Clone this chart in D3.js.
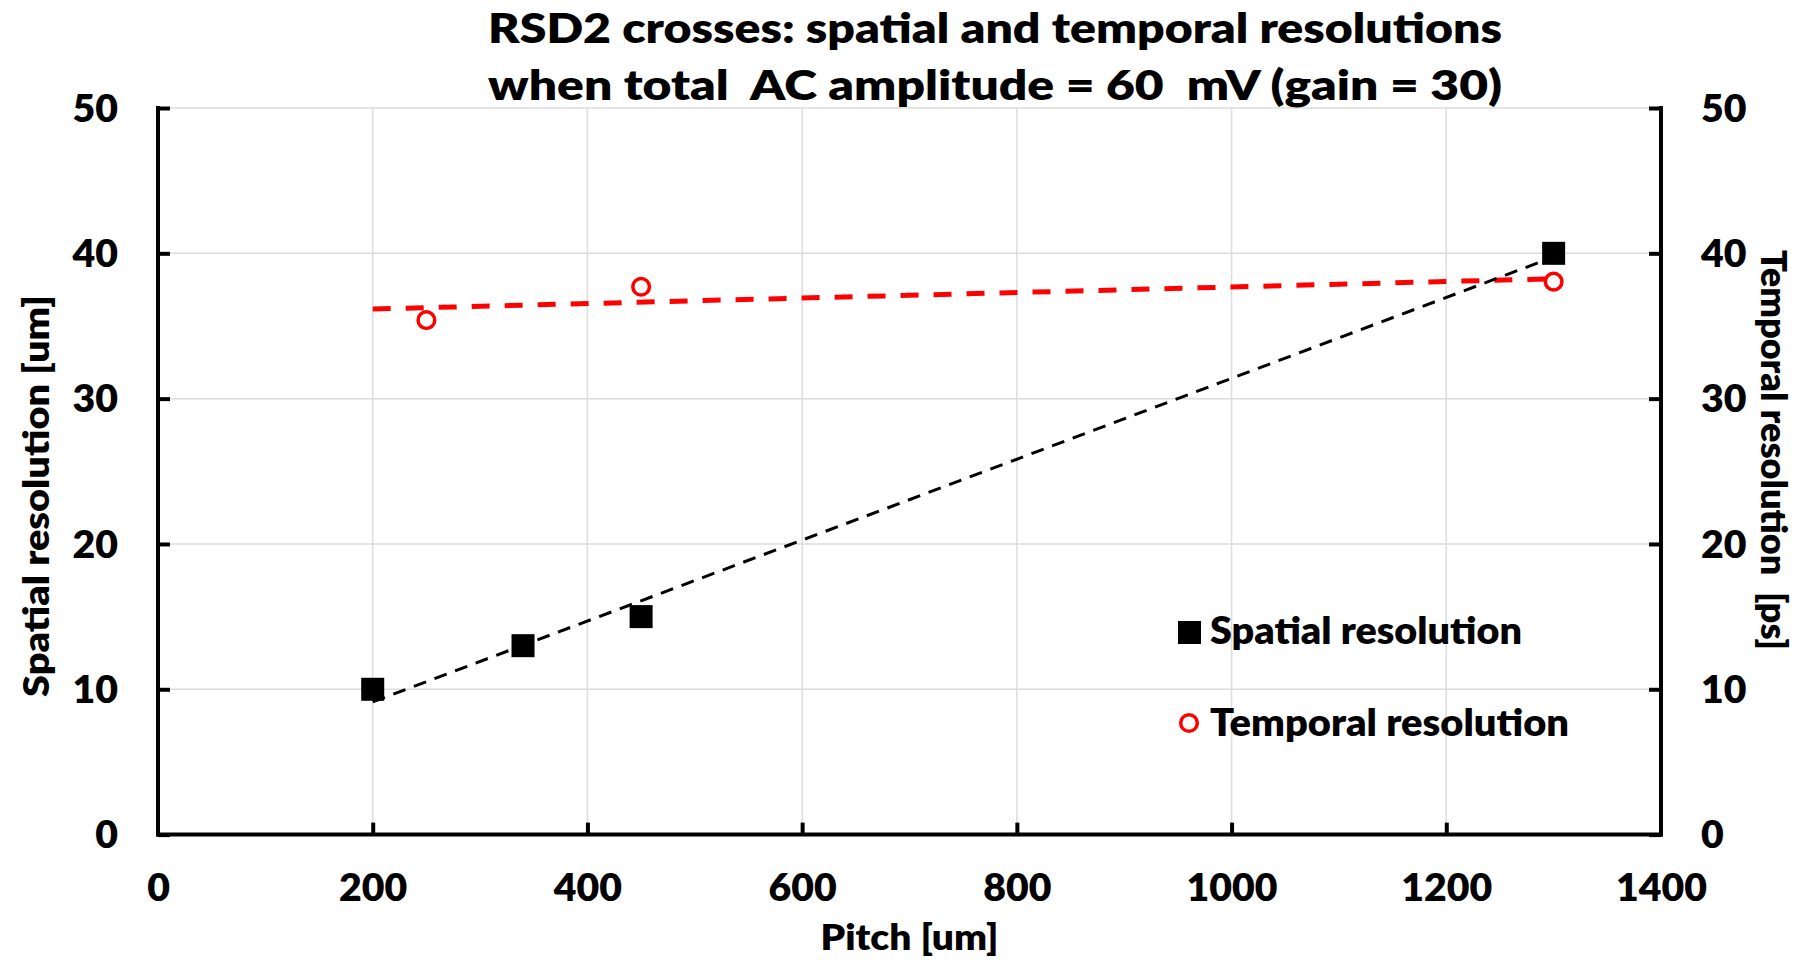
<!DOCTYPE html>
<html>
<head>
<meta charset="utf-8">
<script src="https://cdn.jsdelivr.net/npm/d3@7"></script>
<style>
  html, body { margin: 0; padding: 0; background: #fff; }
  svg { display: block; }
  text { font-family: "Lato", "Open Sans", sans-serif; font-weight: 800; fill: #000; }
</style>
</head>
<body>
<svg id="chart" width="1803" height="960"></svg>
<script>
// Measurements per pitch
const spatialPitch = [200, 340, 450, 1300];
const spatialRes   = [10, 13, 15, 40];        // um
const temporalPitch = [250, 450, 1300];
const temporalRes   = [35.4, 37.7, 38.05];    // ps

const xTicks = [0, 200, 400, 600, 800, 1000, 1200, 1400];
const yTicks = [0, 10, 20, 30, 40, 50];

const titleLines = [
  "RSD2 crosses: spatial and temporal resolutions",
  "when total\u00a0 AC amplitude = 60\u00a0 mV (gain = 30)"
];
const legendLabels = ["Spatial resolution", "Temporal resolution"];

const m = { left: 158, right: 1661, top: 108, bottom: 834.6 };

const svg = d3.select("#chart");
const x = d3.scaleLinear().domain([0, 1400]).range([m.left, m.right]);
const yL = d3.scaleLinear().domain([0, 50]).range([m.bottom, m.top]);
const yR = d3.scaleLinear().domain([0, 50]).range([m.bottom, m.top]);

// The wide geometric face is imitated by stretching text
function widen(sel, factor) {
  sel.each(function () {
    const w = this.getComputedTextLength();
    d3.select(this).attr("textLength", w * factor).attr("lengthAdjust", "spacingAndGlyphs");
  });
}
function fitWidth(sel, w) {
  sel.attr("textLength", w).attr("lengthAdjust", "spacingAndGlyphs");
}

// Least-squares line evaluated over a pitch span
function fitLine(xs, ys, x0, x1) {
  const mx = d3.mean(xs), my = d3.mean(ys);
  const sxy = d3.sum(xs, (v, i) => (v - mx) * (ys[i] - my));
  const sxx = d3.sum(xs, v => (v - mx) * (v - mx));
  const b = sxy / sxx, a = my - b * mx;
  return [[x0, a + b * x0], [x1, a + b * x1]];
}

// gridlines
const grid = svg.append("g").attr("stroke", "#dcdcdc").attr("stroke-width", 1.5);
grid.selectAll("line.v").data(xTicks.filter(d => d > 0 && d < 1400)).join("line")
  .attr("x1", d => x(d)).attr("x2", d => x(d))
  .attr("y1", m.top).attr("y2", m.bottom);
grid.selectAll("line.h").data(yTicks.filter(d => d > 0)).join("line")
  .attr("x1", m.left).attr("x2", m.right)
  .attr("y1", d => yL(d)).attr("y2", d => yL(d));

// axes
function styleAxis(g) {
  g.select(".domain").remove();
  g.selectAll(".tick line").attr("stroke", "#000").attr("stroke-width", 4);
  g.selectAll(".tick text").style("font-size", "37px").attr("fill", "#000");
  widen(g.selectAll(".tick text"), 1.06);
}
const xAxis = svg.append("g").attr("transform", `translate(0,${m.bottom})`)
  .call(d3.axisBottom(x).tickValues(xTicks).tickSize(-12).tickPadding(40).tickFormat(d3.format("d")));
styleAxis(xAxis);
xAxis.selectAll(".tick").filter(d => d === 0 || d === 1400).select("line").remove();

const yAxisL = svg.append("g").attr("transform", `translate(${m.left},0)`)
  .call(d3.axisLeft(yL).tickValues(yTicks).tickSize(-12).tickPadding(40).tickFormat(d3.format("d")));
styleAxis(yAxisL);
yAxisL.selectAll(".tick text").attr("dy", "0.36em");

const yAxisR = svg.append("g").attr("transform", `translate(${m.right},0)`)
  .call(d3.axisRight(yR).tickValues(yTicks).tickSize(-12).tickPadding(40).tickFormat(d3.format("d")));
styleAxis(yAxisR);
yAxisR.selectAll(".tick text").attr("dy", "0.36em");

// axis lines
const frame = svg.append("g").attr("stroke", "#000").attr("stroke-width", 4).attr("stroke-linecap", "square");
frame.append("line").attr("x1", m.left).attr("x2", m.right).attr("y1", m.bottom).attr("y2", m.bottom);
frame.append("line").attr("x1", m.left).attr("x2", m.left).attr("y1", m.top).attr("y2", m.bottom);
frame.append("line").attr("x1", m.right).attr("x2", m.right).attr("y1", m.top).attr("y2", m.bottom);

// trend lines
const line = d3.line().x(d => x(d[0]));
const spatialFit = fitLine(spatialPitch, spatialRes, d3.min(spatialPitch), d3.max(spatialPitch));
const temporalFit = fitLine(temporalPitch, temporalRes, d3.min(spatialPitch), d3.max(temporalPitch));

svg.append("path").datum(temporalFit)
  .attr("d", line.y(d => yR(d[1])))
  .attr("fill", "none").attr("stroke", "#ff0000").attr("stroke-width", 5)
  .attr("stroke-dasharray", "18 15");

svg.append("path").datum(spatialFit)
  .attr("d", line.y(d => yL(d[1])))
  .attr("fill", "none").attr("stroke", "#000").attr("stroke-width", 3)
  .attr("stroke-dasharray", "13 9");

// markers
const sq = 23;
svg.append("g").selectAll("rect").data(spatialPitch.map((p, i) => [p, spatialRes[i]])).join("rect")
  .attr("x", d => x(d[0]) - sq / 2).attr("y", d => yL(d[1]) - sq / 2)
  .attr("width", sq).attr("height", sq).attr("fill", "#000");

svg.append("g").selectAll("circle").data(temporalPitch.map((p, i) => [p, temporalRes[i]])).join("circle")
  .attr("cx", d => x(d[0])).attr("cy", d => yR(d[1])).attr("r", 8.3)
  .attr("fill", "#fff").attr("stroke", "#ff0000").attr("stroke-width", 3.5);

// legend
const lg = svg.append("g");
lg.append("rect").attr("x", 1178).attr("y", 621).attr("width", 23).attr("height", 23).attr("fill", "#000");
lg.append("circle").attr("cx", 1189).attr("cy", 723).attr("r", 8.3)
  .attr("fill", "#fff").attr("stroke", "#ff0000").attr("stroke-width", 3.5);
const legendWidths = [312, 359];
lg.selectAll("text").data(legendLabels).join("text")
  .attr("x", 1210).attr("y", (d, i) => 644 + i * 92)
  .style("font-size", "37px").text(d => d)
  .attr("textLength", (d, i) => legendWidths[i]).attr("lengthAdjust", "spacingAndGlyphs");

// title
const title = svg.append("g").selectAll("text").data(titleLines).join("text")
  .attr("x", 995).attr("y", (d, i) => 43 + i * 57)
  .attr("text-anchor", "middle").style("font-size", "42px").text(d => d);
fitWidth(title, 1014);

// axis titles
const xt = svg.append("text").attr("x", (m.left + m.right) / 2).attr("y", 950)
  .attr("text-anchor", "middle").style("font-size", "36px").text("Pitch [um]");
fitWidth(xt, 178);
const ylt = svg.append("text").attr("transform", `translate(35,496) rotate(-90)`)
  .attr("text-anchor", "middle").attr("dominant-baseline", "central")
  .style("font-size", "36px").text("Spatial resolution [um]");
fitWidth(ylt, 402);
const yrt = svg.append("text").attr("transform", `translate(1775,450) rotate(90)`)
  .attr("text-anchor", "middle").attr("dominant-baseline", "central")
  .style("font-size", "36px").text("Temporal resolution\u00a0 [ps]");
fitWidth(yrt, 400);
</script>
</body>
</html>
